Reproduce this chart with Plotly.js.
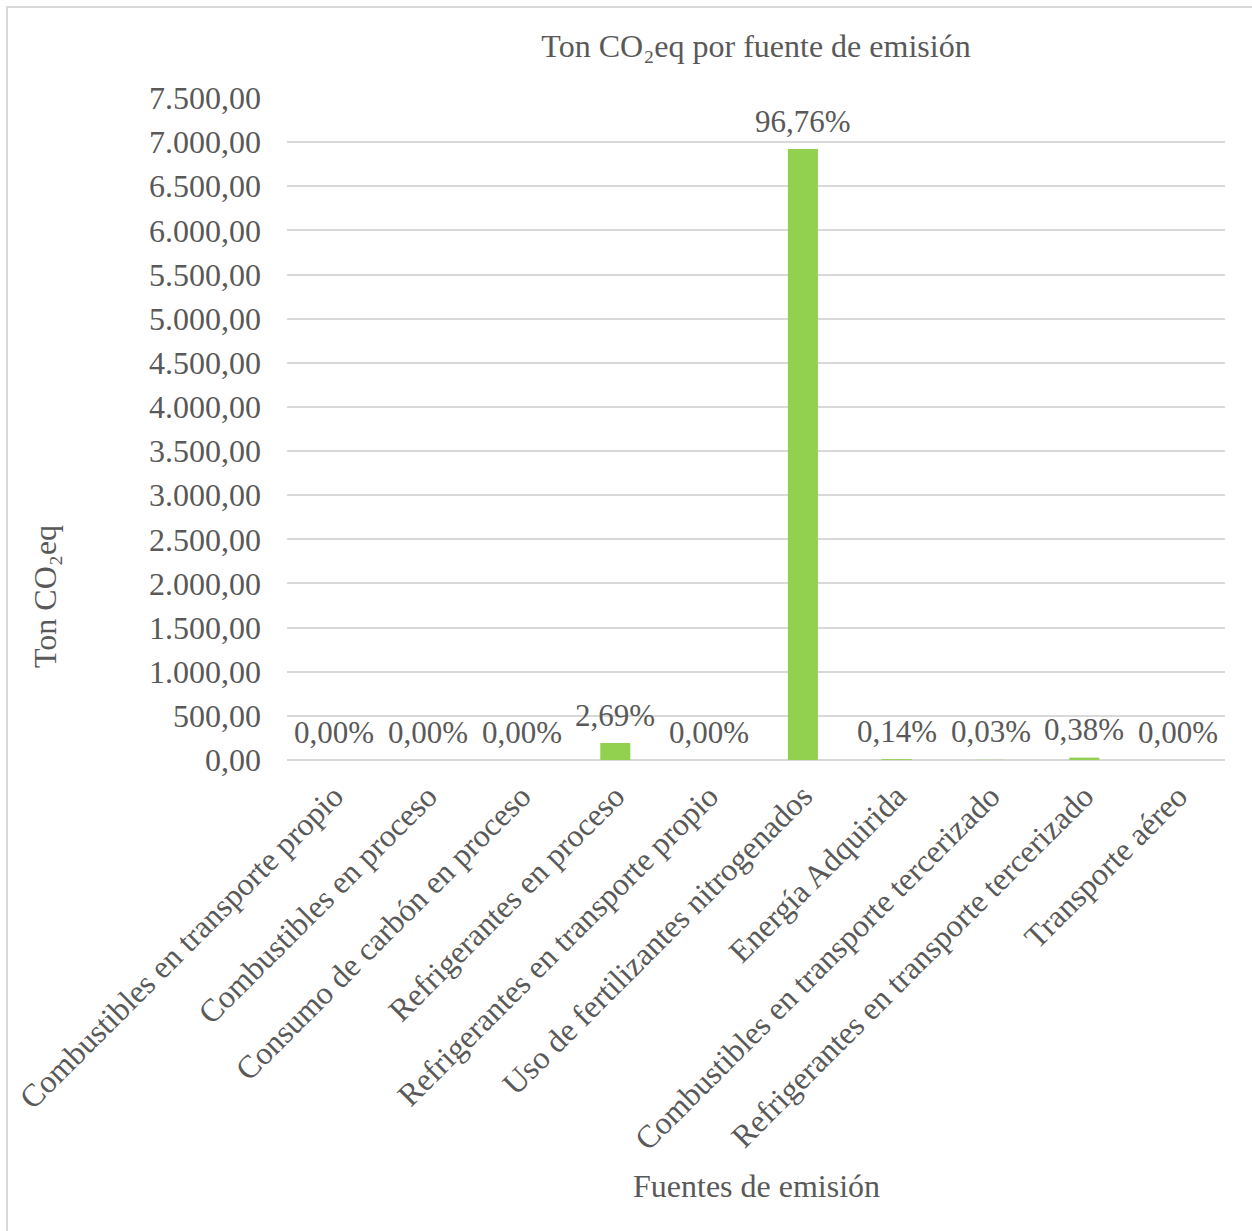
<!DOCTYPE html>
<html>
<head>
<meta charset="utf-8">
<script src="https://cdn.plot.ly/plotly-3.0.1.min.js"></script>
<style>
  html, body { margin: 0; padding: 0; background: #ffffff; }
  #wrap { position: relative; width: 1252px; height: 1231px; overflow: hidden; }
  #chart { position: absolute; left: 0; top: 0; width: 1252px; height: 1231px; }
  #frame { position: absolute; left: 6px; top: 6px; width: 1260px; height: 1240px;
           border: 2px solid #d9d9d9; box-sizing: border-box; pointer-events: none; }
</style>
</head>
<body>
<div id="wrap">
  <div id="chart"></div>
  <div id="frame"></div>
</div>
<script>
const categories = [
  "Combustibles en transporte propio",
  "Combustibles en proceso",
  "Consumo de carbón en proceso",
  "Refrigerantes en proceso",
  "Refrigerantes en transporte propio",
  "Uso de fertilizantes nitrogenados",
  "Energía Adquirida",
  "Combustibles en transporte tercerizado",
  "Refrigerantes en transporte tercerizado",
  "Transporte aéreo"
];
const tonCO2eq = [0, 0, 0, 192.4, 0, 6922, 10.0, 2.1, 27.2, 0];
const percentLabels = ["0,00%", "0,00%", "0,00%", "2,69%", "0,00%", "96,76%", "0,14%", "0,03%", "0,38%", "0,00%"];

const FONT = "Liberation Serif, Times New Roman, serif";
const GREY = "#595959";

const trace = {
  type: "bar",
  x: categories,
  y: tonCO2eq,
  cliponaxis: false,
  marker: { color: "#92d050", line: { width: 0 } },
  hoverinfo: "x+y"
};

const labelAnnotations = categories.map((c, i) => ({
  x: c,
  y: tonCO2eq[i],
  xref: "x",
  yref: "y",
  text: percentLabels[i],
  showarrow: false,
  xanchor: "center",
  yanchor: "middle",
  yshift: 28,
  font: { family: FONT, size: 31, color: GREY }
}));

const layout = {
  width: 1252,
  height: 1231,
  margin: { l: 287, r: 27, t: 98, b: 471 },
  paper_bgcolor: "#ffffff",
  plot_bgcolor: "#ffffff",
  separators: ",.",
  showlegend: false,
  bargap: 0.68,
  font: { family: FONT, size: 32, color: GREY },
  title: {
    text: "Ton CO\u2082eq por fuente de emisión",
    font: { family: FONT, size: 32, color: GREY },
    x: 0.5, xref: "paper", xanchor: "center",
    y: 1 - 46 / 1231, yref: "container", yanchor: "middle"
  },
  xaxis: {
    type: "category",
    tickangle: -45,
    tickfont: { family: FONT, size: 32, color: GREY },
    showgrid: false,
    showline: false,
    ticks: "",
    ticklabelstandoff: 10,
    automargin: false
  },
  yaxis: {
    range: [0, 7500],
    dtick: 500,
    tick0: 0,
    tickformat: ",.2f",
    tickfont: { family: FONT, size: 32, color: GREY },
    showgrid: true,
    gridcolor: "#d9d9d9",
    gridwidth: 2,
    zeroline: true,
    zerolinecolor: "#d9d9d9",
    zerolinewidth: 2,
    showline: false,
    ticks: "",
    ticklabelstandoff: 25,
    automargin: false
  },
  annotations: labelAnnotations.concat([
    {
      text: "Ton CO\u2082eq",
      xref: "paper", yref: "paper",
      x: (45 - 287) / 938, y: (760 - 597) / 662,
      xanchor: "center", yanchor: "middle",
      textangle: -90, showarrow: false,
      font: { family: FONT, size: 32, color: GREY }
    },
    {
      text: "Fuentes de emisión",
      xref: "paper", yref: "paper",
      x: (756 - 287) / 938, y: (760 - 1186) / 662,
      xanchor: "center", yanchor: "middle",
      showarrow: false,
      font: { family: FONT, size: 32, color: GREY }
    }
  ])
};

Plotly.newPlot("chart", [trace], layout, { staticPlot: true, displayModeBar: false });
</script>
</body>
</html>
